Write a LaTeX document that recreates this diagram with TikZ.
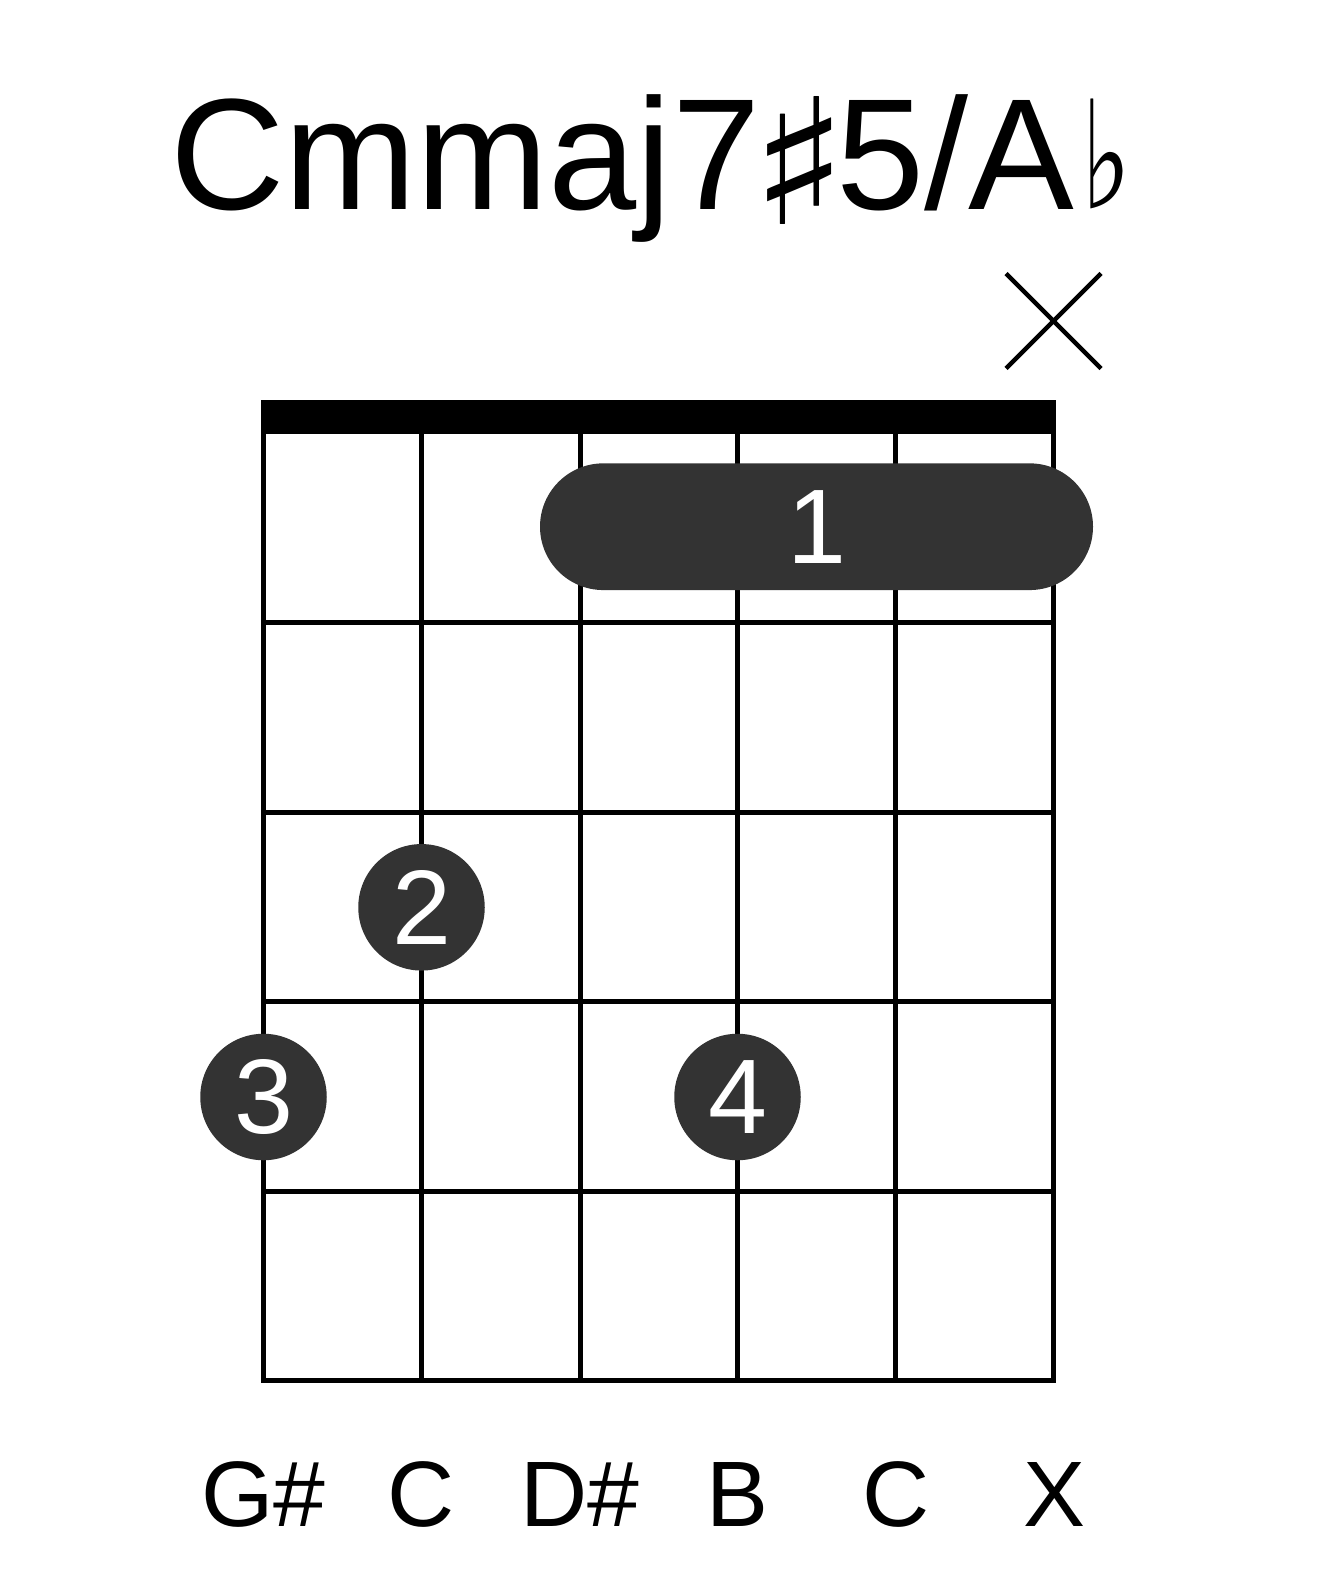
\documentclass[tikz,border=0pt]{standalone}
\usepackage{fontspec}
\setmainfont{Liberation Sans}
\newfontfamily\dejavu{DejaVu Sans}
\definecolor{dot}{HTML}{333333}
\newcommand{\shp}{\makebox[78.4pt][c]{\raisebox{-16pt}{\resizebox*{98pt}{128pt}{\raisebox{\depth}{\dejavu ♯}}}}\hspace{-2pt}}
\newcommand{\flt}{\makebox[64.4pt][c]{\raisebox{0.5pt}{\resizebox*{50pt}{110pt}{\raisebox{\depth}{\dejavu ♭}}}}}
\begin{document}
\begin{tikzpicture}[x=1pt,y=-1pt,
  gridline/.style={line width=5pt},
  fing/.style={circle,fill=dot,text=white,minimum size=126.5pt,inner sep=0pt,font=\fontsize{106}{106}\selectfont},
  barre/.style={rectangle,fill=dot,text=white,rounded corners=63.3pt,minimum width=553pt,minimum height=126.7pt,inner sep=0pt,font=\fontsize{106}{106}\selectfont},
  lab/.style={anchor=base,inner sep=0pt,font=\fontsize{93}{93}\selectfont},
  mute/.style={line width=4.5pt}]
\useasboundingbox (0,0) rectangle (1317,1581);
% title
\node[anchor=base west,inner sep=0pt,font=\fontsize{158.5}{158.5}\selectfont] (title) at (170,209) {Cmmaj7\shp 5/A\flt};
% nut
\fill (260.8,400) rectangle (1056.2,433.5);
% frets
\foreach \y in {622.5,812,1001.5,1191} \draw[gridline] (263.5,\y) -- (1053.5,\y);
% strings
\foreach \x in {421.5,580,737.5,895.7} \draw[gridline] (\x,433) -- (\x,1380.5);
\draw[gridline] (263.5,433) -- (263.5,1380.5) -- (1053.5,1380.5) -- (1053.5,433);
% muted string
\coordinate (m1) at (1006,273.5);
\coordinate (m2) at (1101,368.5);
\coordinate (m3) at (1006,368.5);
\coordinate (m4) at (1101,273.5);
\draw[mute] (m1) -- (m2);
\draw[mute] (m3) -- (m4);
% fingers
\node[barre] (b1) at (816.5,526.7) {1};
\node[fing] (f2) at (421.5,907.3) {2};
\node[fing] (f3) at (263.5,1097) {3};
\node[fing] (f4) at (737.5,1097) {4};
% labels
\node[lab] (l1) at (263.5,1526) {G\#};
\node[lab] (l2) at (421.5,1526) {C};
\node[lab] (l3) at (580,1526) {D\#};
\node[lab] (l4) at (737.5,1526) {B};
\node[lab] (l5) at (895.7,1526) {C};
\node[lab] (l6) at (1055,1526) {X};
\end{tikzpicture}
\end{document}
